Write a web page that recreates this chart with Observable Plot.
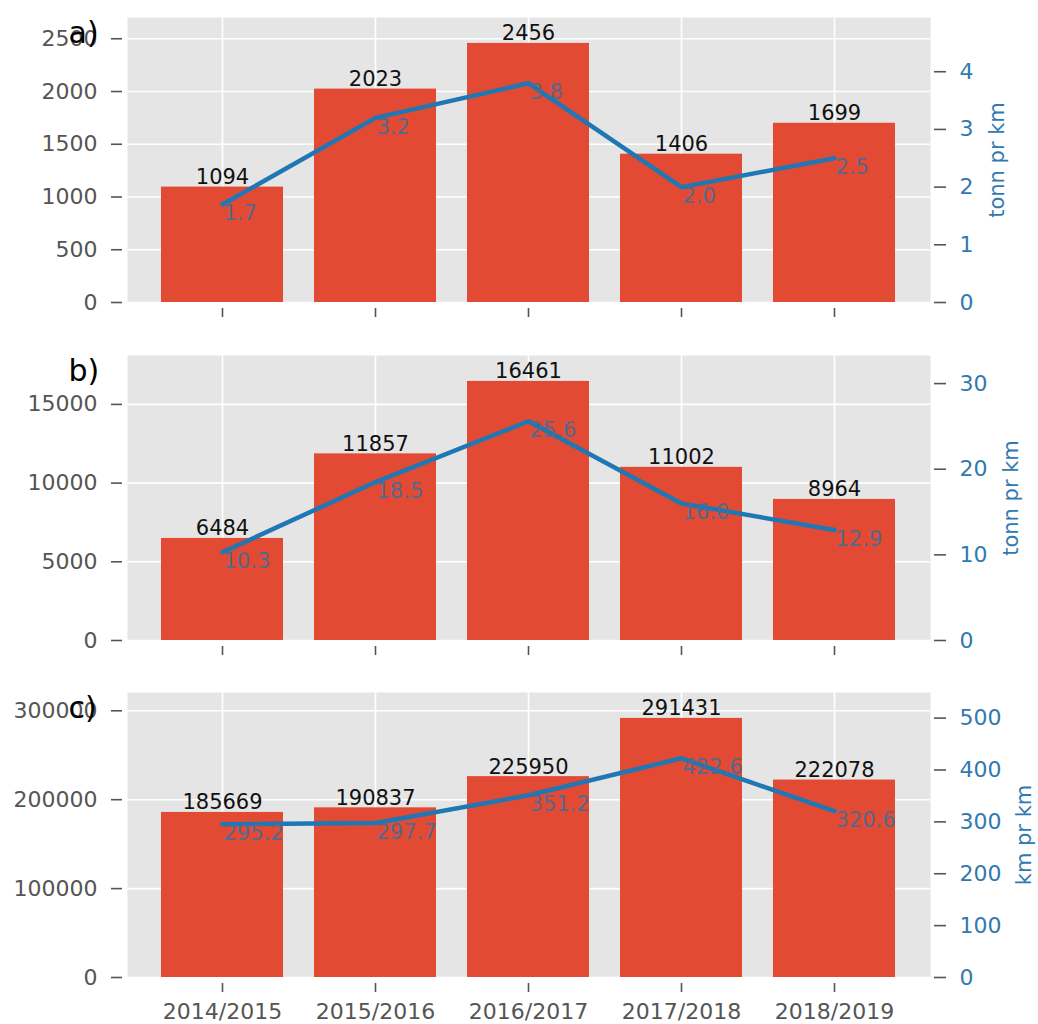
<!DOCTYPE html>
<html>
<head>
<meta charset="utf-8">
<script src="https://cdn.jsdelivr.net/npm/d3@7"></script>
<script src="https://cdn.jsdelivr.net/npm/@observablehq/plot@0.6"></script>
<style>
  body { margin: 0; background: white; }
  #chart { position: relative; width: 1038px; height: 1024px; font-family: "DejaVu Sans", sans-serif; }
  #chart svg { position: absolute; left: 0; }
</style>
</head>
<body>
<div id="chart"></div>
<script>
const seasons = ["2014/2015", "2015/2016", "2016/2017", "2017/2018", "2018/2019"];

const barsA = [1094, 2023, 2456, 1406, 1699];
const lineA = [1.7, 3.2, 3.8, 2.0, 2.5];
const barsB = [6484, 11857, 16461, 11002, 8964];
const lineB = [10.3, 18.5, 25.6, 16.0, 12.9];
const barsC = [185669, 190837, 225950, 291431, 222078];
const lineC = [295.2, 297.7, 351.2, 422.6, 320.6];

const leftTicksA = [0, 500, 1000, 1500, 2000, 2500];
const rightTicksA = [0, 1, 2, 3, 4];
const leftTicksB = [0, 5000, 10000, 15000];
const rightTicksB = [0, 10, 20, 30];
const leftTicksC = [0, 100000, 200000, 300000];
const rightTicksC = [0, 100, 200, 300, 400, 500];

const panelTags = ["a)", "b)", "c)"];
const rightLabels = ["tonn pr km", "tonn pr km", "km pr km"];

const BAR = "#E24A33", BG = "#E5E5E5", LINE = "#1f77b4", RIGHT = "#3279b0", LINELBL = "#55698c", TICK = "#555555";
const FS = 21, TFS = 22;

const chart = document.getElementById("chart");

function panel(cfg) {
  const rows = seasons.map((s, i) => ({season: s, total: cfg.bars[i], rate: cfg.line[i]}));
  const common = {
    width: 1038,
    height: 285 + 17 + cfg.mb,
    marginTop: 17,
    marginBottom: cfg.mb,
    marginLeft: 127,
    marginRight: 108,
    x: {type: "band", domain: seasons, paddingInner: 0.2, paddingOuter: 0.22, align: 0.5, axis: null},
    style: {fontFamily: "DejaVu Sans, sans-serif", fontSize: TFS + "px", background: "transparent", overflow: "visible"}
  };
  const left = Plot.plot({
    ...common,
    y: {domain: [0, d3.max(cfg.bars) * 1.1], axis: null},
    marks: [
      Plot.frame({fill: BG, stroke: null}),
      Plot.gridY(cfg.leftTicks, {stroke: "white", strokeOpacity: 1, strokeWidth: 1.6}),
      Plot.gridX({stroke: "white", strokeOpacity: 1, strokeWidth: 1.6}),
      Plot.barY(rows, {x: "season", y: "total", fill: BAR}),
      Plot.text(rows, {x: "season", y: "total", text: d => String(d.total), lineAnchor: "bottom", dy: -3, fontSize: FS, fill: "#111"}),
      Plot.axisY(cfg.leftTicks, {anchor: "left", tickSize: 11, tickPadding: 14, dx: -5, tickFormat: d => String(d), fill: TICK, stroke: TICK, strokeWidth: 1.6, fontSize: TFS, label: null}),
      Plot.axisX({anchor: "bottom", tickSize: 9, dy: 6, tickPadding: 11, tickFormat: cfg.showX ? (d => d) : (() => ""), fill: TICK, stroke: TICK, strokeWidth: 1.6, fontSize: TFS, label: null}),
      Plot.text([cfg.tag], {frameAnchor: "top-left", text: d => d, textAnchor: "start", lineAnchor: "bottom", dx: -59, dy: 25, fontSize: 30, fill: "black"})
    ]
  });
  const right = Plot.plot({
    ...common,
    y: {domain: [0, d3.max(cfg.line) * 1.3], axis: null},
    marks: [
      Plot.lineY(rows, {x: "season", y: "rate", stroke: LINE, strokeWidth: 4.5}),
      Plot.text(rows, {x: "season", y: "rate", text: d => d.rate.toFixed(1), textAnchor: "start", lineAnchor: "top", dx: 1, dy: 1, fontSize: FS, fill: LINELBL}),
      Plot.axisY(cfg.rightTicks, {anchor: "right", tickSize: 12, tickPadding: 14, dx: 3, tickFormat: d => String(d), fill: RIGHT, stroke: TICK, strokeWidth: 1.6, fontSize: TFS, label: null}),
      Plot.text([cfg.rightLabel], {frameAnchor: "right", text: d => d, rotate: -90, textAnchor: "middle", lineAnchor: "middle", dx: cfg.labelDx, fontSize: FS, fill: RIGHT})
    ]
  });
  left.style.top = cfg.top + "px";
  right.style.top = cfg.top + "px";
  chart.appendChild(left);
  chart.appendChild(right);
}

panel({bars: barsA, line: lineA, leftTicks: leftTicksA, rightTicks: rightTicksA, tag: panelTags[0], rightLabel: rightLabels[0], showX: false, top: 0, mb: 35, labelDx: 67});
panel({bars: barsB, line: lineB, leftTicks: leftTicksB, rightTicks: rightTicksB, tag: panelTags[1], rightLabel: rightLabels[1], showX: false, top: 338, mb: 35, labelDx: 81});
panel({bars: barsC, line: lineC, leftTicks: leftTicksC, rightTicks: rightTicksC, tag: panelTags[2], rightLabel: rightLabels[2], showX: true, top: 675, mb: 47, labelDx: 94});
</script>
</body>
</html>
